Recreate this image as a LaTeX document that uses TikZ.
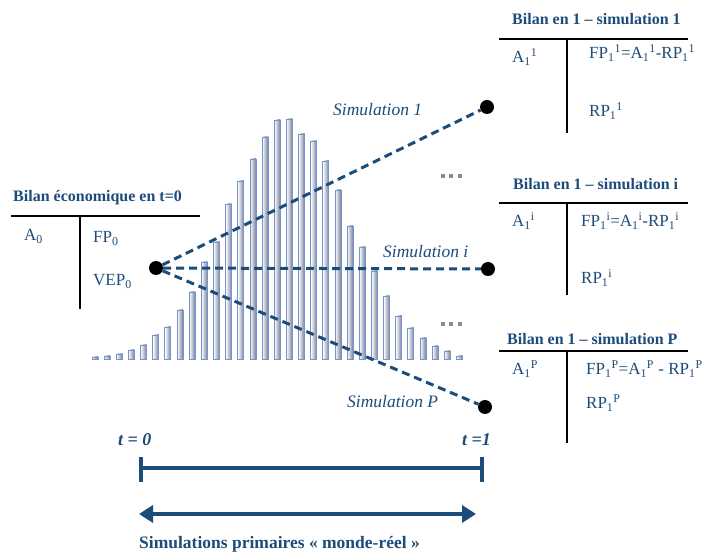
\documentclass[tikz,border=0pt]{standalone}
\usepackage{fontspec}
\setmainfont{Liberation Serif}
\usetikzlibrary{positioning,arrows.meta,shapes,calc}
\definecolor{bleufonce}{RGB}{28,76,122}
\definecolor{bleubarre}{RGB}{115,148,206}
\definecolor{grisbarre}{RGB}{118,126,152}
\definecolor{grispoint}{RGB}{140,140,140}

\begin{document}
\begin{tikzpicture}[x=1pt,y=-1pt,
    titre/.style={font=\fontsize{16}{19}\selectfont\bfseries, text=bleufonce, inner sep=0pt, anchor=base west},
    texte/.style={font=\fontsize{17}{20}\selectfont, text=bleufonce, inner sep=0pt, anchor=base west},
    simu/.style={font=\fontsize{17.5}{20}\selectfont\itshape, text=bleufonce, inner sep=0pt, anchor=base west},
    temps/.style={font=\fontsize{18}{20}\selectfont\bfseries\itshape, text=bleufonce, inner sep=0pt, anchor=base west},
    point/.style={circle, fill=black, inner sep=0pt, minimum size=14pt},
    tirets/.style={bleufonce, line width=3pt, dash pattern=on 8pt off 5pt},
    barre/.style={draw=bleubarre, line width=0.9pt, left color=white, right color=grisbarre}]
    \useasboundingbox (0,0) rectangle (705,553);

    % Histogramme
    \foreach \h [count=\i from 0] in {2,3,5,9,14,24,32,49,67,97,117,155,178,200,222,239,240,225,218,198,169,133,112,88,63,43,31,21,13,8,3}
        \draw[barre] ({92+12.15*\i},359) rectangle ++(6,-\h);

    % Bilan en t=0
    \node[titre] (titre0) at (13,202) {Bilan économique en t=0};
    \draw[line width=1.5pt] (11,216) -- (200,216);
    \draw[line width=1.5pt] (80,216) -- (80,309);
    \node[texte] (a0) at (24,241) {A\textsubscript{0}};
    \node[texte] (fp0) at (93,243) {FP\textsubscript{0}};
    \node[texte] (vep0) at (93,286) {VEP\textsubscript{0}};

    % Bilan simulation 1
    \node[titre] (titre1) at (512,25) {Bilan en 1 -- simulation 1};
    \draw[line width=1.5pt] (499,39) -- (688,39);
    \draw[line width=1.5pt] (567,39) -- (567,133);
    \node[texte] (a1) at (512,63) {A\textsubscript{1}\textsuperscript{1}};
    \node[texte] (fp1) at (589,59) {FP\textsubscript{1}\textsuperscript{1}=A\textsubscript{1}\textsuperscript{1}-RP\textsubscript{1}\textsuperscript{1}};
    \node[texte] (rp1) at (589,117) {RP\textsubscript{1}\textsuperscript{1}};

    % Bilan simulation i
    \node[titre] (titrei) at (513,190) {Bilan en 1 -- simulation i};
    \draw[line width=1.5pt] (499,203) -- (688,203);
    \draw[line width=1.5pt] (567,203) -- (567,295);
    \node[texte] (ai) at (512,227) {A\textsubscript{1}\textsuperscript{i}};
    \node[texte] (fpi) at (581,227) {FP\textsubscript{1}\textsuperscript{i}=A\textsubscript{1}\textsuperscript{i}-RP\textsubscript{1}\textsuperscript{i}};
    \node[texte] (rpi) at (581,284) {RP\textsubscript{1}\textsuperscript{i}};

    % Bilan simulation P
    \node[titre] (titreP) at (507,345) {Bilan en 1 -- simulation P};
    \draw[line width=1.5pt] (499,351) -- (688,351);
    \draw[line width=1.5pt] (567,351) -- (567,443);
    \node[texte] (aP) at (512,375) {A\textsubscript{1}\textsuperscript{P}};
    \node[texte] (fpP) at (586,375) {FP\textsubscript{1}\textsuperscript{P}=A\textsubscript{1}\textsuperscript{P} - RP\textsubscript{1}\textsuperscript{P}};
    \node[texte] (rpP) at (586,409) {RP\textsubscript{1}\textsuperscript{P}};

    % Trajectoires
    \node[point] (depart) at (156,268) {};
    \node[point] (fin1) at (487,107) {};
    \node[point] (fini) at (488,269) {};
    \node[point] (finP) at (485,407) {};
    \draw[tirets] (depart) -- (fin1);
    \draw[tirets] (depart) -- (fini);
    \draw[tirets] (depart) -- (finP);
    \node[simu] (sim1) at (333,116) {Simulation 1};
    \node[simu] (simi) at (383,258) {Simulation i};
    \node[simu] (simP) at (347,408) {Simulation P};

    % Points de suspension
    \foreach \y in {176,324}
        \foreach \x in {443,451,460}
            \fill[grispoint] (\x-2,\y-2) rectangle ++(4,4);

    % Axe du temps
    \node[temps] (lt0) at (118,446) {t = 0};
    \node[temps] (lt1) at (462,446) {t =1};
    \coordinate (t0) at (141,468);
    \coordinate (t1) at (482,468);
    \draw[bleufonce, line width=4pt] (t0) -- (t1);
    \draw[bleufonce, line width=4pt] ($(t0)+(0,-11)$) -- ($(t0)+(0,14)$);
    \draw[bleufonce, line width=4pt] ($(t1)+(0,-11)$) -- ($(t1)+(0,14)$);
    \coordinate (g) at (139,514);
    \coordinate (d) at (476,514);
    \draw[bleufonce, line width=4pt, {Triangle[length=14pt,width=17pt]}-{Triangle[length=14pt,width=17pt]}] (g) -- (d);
    \node[titre, font=\fontsize{17.5}{20}\selectfont\bfseries] (legende) at (139,548) {Simulations primaires « monde-réel »};
\end{tikzpicture}
\end{document}
